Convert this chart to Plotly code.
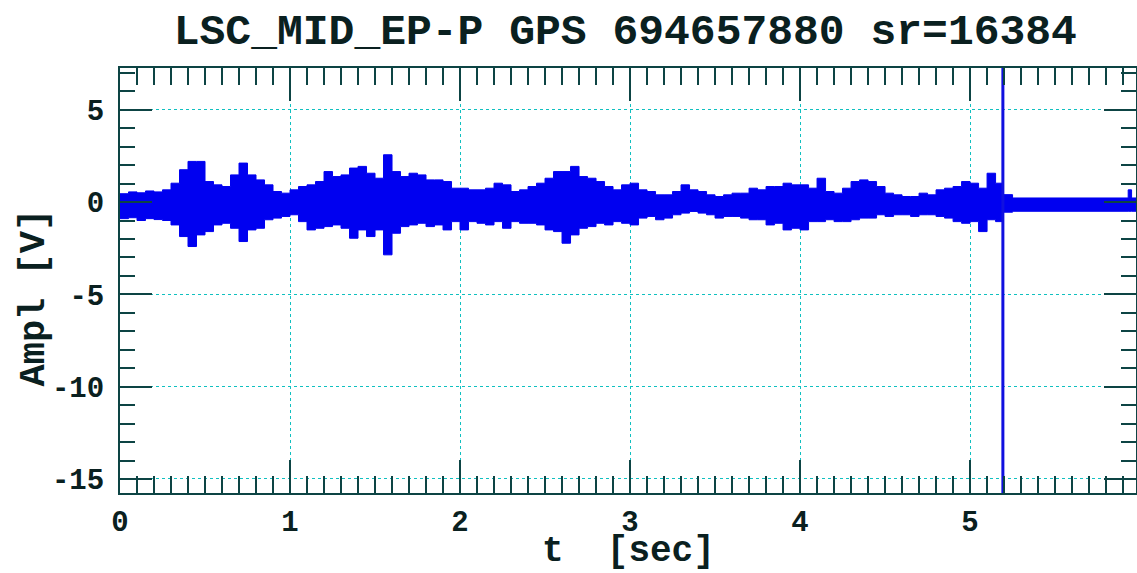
import numpy as np
import plotly.graph_objects as go

# ---- data ----
bin_width = 0.05
# upper / lower envelope of the signal per 0.05 s bin, from t = 0 to the glitch
upper = [0.45, 0.55, 0.50, 0.60, 0.55, 0.66, 1.02, 1.75, 2.20, 2.20,
         1.11, 0.93, 0.84, 1.47, 2.11, 1.47, 1.20, 0.93, 0.57, 0.48,
         0.66, 0.84, 0.93, 1.11, 1.65, 1.38, 1.47, 1.84, 1.93, 1.56,
         1.29, 2.56, 1.65, 1.38, 1.56, 1.47, 1.20, 1.20, 1.11, 0.75,
         0.75, 0.66, 0.66, 0.75, 1.02, 0.93, 0.57, 0.66, 0.84, 1.02,
         1.29, 1.65, 1.65, 1.93, 1.38, 1.29, 1.11, 0.84, 0.66, 0.93,
         1.02, 0.66, 0.57, 0.39, 0.39, 0.57, 0.93, 0.66, 0.57, 0.39,
         0.30, 0.39, 0.48, 0.48, 0.75, 0.66, 0.84, 0.84, 1.02, 0.93,
         0.93, 0.75, 1.29, 0.57, 0.48, 0.75, 1.11, 1.20, 1.11, 0.84,
         0.48, 0.39, 0.30, 0.30, 0.48, 0.39, 0.66, 0.75, 0.84, 1.11,
         1.02, 0.75, 1.56, 1.02]
lower = [-0.90, -0.85, -1.00, -0.90, -0.95, -1.00, -1.24, -1.87, -2.41, -1.78,
         -1.60, -1.24, -1.15, -1.42, -2.14, -1.51, -1.42, -0.96, -0.87, -0.78,
         -0.69, -1.06, -1.51, -1.42, -1.33, -1.24, -1.42, -1.96, -1.51, -1.87,
         -1.51, -2.86, -1.69, -1.33, -1.24, -1.15, -1.33, -1.24, -1.51, -1.06,
         -1.51, -1.06, -1.15, -1.24, -1.06, -1.42, -1.06, -1.15, -1.15, -1.24,
         -1.51, -1.60, -2.23, -1.78, -1.42, -1.33, -1.15, -1.24, -1.06, -1.15,
         -1.24, -0.87, -0.78, -0.96, -0.87, -0.69, -0.60, -0.51, -0.60, -0.69,
         -0.87, -0.78, -0.78, -0.87, -0.96, -0.96, -1.24, -1.15, -1.51, -1.42,
         -1.51, -1.06, -1.06, -0.96, -1.06, -1.06, -0.96, -0.87, -0.87, -0.69,
         -0.78, -0.69, -0.69, -0.78, -0.69, -0.69, -0.78, -0.87, -1.06, -1.15,
         -1.06, -1.60, -0.96, -1.06]
# quiet segment after the glitch: (start time, upper, lower)
quiet_t = [5.193, 5.25, 5.93, 5.95, 5.976]
quiet_upper = [0.40, 0.22, 0.66, 0.22, 0.22]
quiet_lower = [-0.55, -0.50, -0.50, -0.50, -0.50]
# the glitch: a single full-scale spike
spike_t = 5.193
spike_range = [-16.5, 8.0]

title_text = "LSC_MID_EP-P GPS 694657880 sr=16384"
x_title = "t  [sec]"
y_title = "Ampl [V]"
x_ticks = [0, 1, 2, 3, 4, 5]
y_ticks = [5, 0, -5, -10, -15]

# ---- build traces ----
t_starts = list(np.round(np.arange(len(upper)) * bin_width, 3))
tx = t_starts + quiet_t
uy = upper + quiet_upper
ly = lower + quiet_lower

BLUE = "#0000f0"
fig = go.Figure()
fig.add_trace(go.Scatter(x=tx, y=uy, mode="lines", line=dict(color=BLUE, width=1, shape="hv"),
                         hoverinfo="skip", showlegend=False))
fig.add_trace(go.Scatter(x=tx, y=ly, mode="lines", line=dict(color=BLUE, width=1, shape="hv"),
                         fill="tonexty", fillcolor=BLUE, hoverinfo="skip", showlegend=False))
fig.add_trace(go.Scatter(x=[spike_t, spike_t], y=spike_range, mode="lines",
                         line=dict(color="#1010e0", width=3), hoverinfo="skip", showlegend=False))

FONT = "Liberation Mono"
TXT = "#0a2020"
TICK = "#0d4444"
GRID = "#10c0c0"

fig.update_layout(
    width=1137, height=573,
    margin=dict(l=120, r=1, t=68, b=80),
    paper_bgcolor="white", plot_bgcolor="white",
    title=dict(text=title_text, x=0.550, xanchor="center", y=0.95, yanchor="middle",
               font=dict(family=FONT, size=43, color=TXT, weight="bold")),
    annotations=[
        dict(text=x_title, xref="paper", yref="paper", x=0.5, y=-0.188, xanchor="center", yanchor="bottom",
             borderpad=0, showarrow=False, font=dict(family=FONT, size=36, color=TXT, weight="bold")),
        dict(text=y_title, xref="paper", yref="paper", x=-0.0856, y=0.46, xanchor="center", yanchor="middle",
             textangle=-90, showarrow=False, font=dict(family=FONT, size=37, color=TXT, weight="bold")),
    ],
)
fig.update_xaxes(
    range=[0, 5.976], tickvals=x_ticks, ticktext=[str(v) for v in x_ticks],
    ticks="inside", ticklen=33, tickwidth=2, tickcolor=TICK,
    minor=dict(dtick=0.1, tick0=0, ticks="inside", ticklen=17, tickwidth=2, tickcolor=TICK, showgrid=False),
    showline=True, linecolor=TICK, linewidth=2, mirror="allticks",
    showgrid=True, gridcolor=GRID, griddash="dot", gridwidth=1, zeroline=False,
    tickfont=dict(family=FONT, size=29, color=TXT, weight="bold"),
    ticklabelstandoff=1, automargin=False,
)
fig.update_yaxes(
    range=[-15.76, 7.26], tickvals=y_ticks, ticktext=[str(v) for v in y_ticks],
    ticks="inside", ticklen=32, tickwidth=2, tickcolor=TICK,
    minor=dict(dtick=1, tick0=0, ticks="inside", ticklen=15, tickwidth=2, tickcolor=TICK, showgrid=False),
    showline=True, linecolor=TICK, linewidth=2, mirror="allticks",
    showgrid=True, gridcolor=GRID, griddash="dot", gridwidth=1, zeroline=False,
    tickfont=dict(family=FONT, size=29, color=TXT, weight="bold"),
    ticklabelstandoff=8, automargin=False,
)

fig.write_html("out.html")
